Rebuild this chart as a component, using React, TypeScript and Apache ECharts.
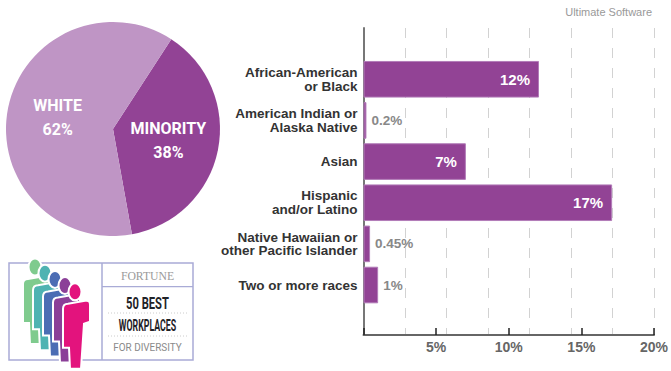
import React, { useEffect, useRef } from "react";
import * as echarts from "echarts";

const categories = [
  "African-American\nor Black",
  "American Indian or\nAlaska Native",
  "Asian",
  "Hispanic\nand/or Latino",
  "Native Hawaiian or\nother Pacific Islander",
  "Two or more races",
];
const shares = [12, 0.2, 7, 17, 0.45, 1];
const pieNames = ["MINORITY", "WHITE"];
const pieValues = [38, 62];
const sourceText = "Ultimate Software";
const logoLines = ["FORTUNE", "50 BEST", "WORKPLACES", "FOR DIVERSITY"];
const figureColors = ["#7fcb8e", "#4fb3b2", "#4b6db4", "#8b3f98", "#e3137d"];

const BODY =
  "M -12 17 Q -12 12 -7 12 L 10 9 Q 15 8 15 13 L 15 30 L 9 32 L 6 77 L -5 77 L -6 56 L -12 56 Z";
let registered = false;

export default function App() {
  const ref = useRef<HTMLDivElement>(null);
  useEffect(() => {
    if (!registered) {
      echarts.graphic.registerShape("personBody", echarts.graphic.extendPath(BODY, {}));
      registered = true;
    }
    const chart = echarts.init(ref.current!, null, { renderer: "svg" });
    const figs: any[] = [];
    figureColors.forEach((c, i) => {
      const hx = 35 + i * 10;
      const hy = 267 + i * 6.2;
      figs.push({
        type: "personBody",
        x: hx,
        y: hy,
        style: { fill: c, stroke: "#fff", lineWidth: 2 },
        z: 10 + i,
      });
      figs.push({
        type: "ellipse",
        shape: { cx: hx, cy: hy, rx: 6.5, ry: 8.5 },
        style: { fill: c, stroke: "#fff", lineWidth: 2 },
        z: 10 + i,
      });
    });
    const option: any = {
      animation: false,
      title: {
        text: sourceText,
        right: 14,
        top: 1,
        textStyle: { fontSize: 11, fontWeight: "normal", color: "#999", fontFamily: "Liberation Sans" },
      },
      grid: [
        { left: 363.5, right: 15, top: 28, bottom: 36 },
        { left: 363.5, right: 15, top: 58.7, bottom: 65.4 },
      ],
      xAxis: [
        {
          type: "value",
          gridIndex: 0,
          min: 0,
          max: 20,
          interval: 5,
          axisLine: { show: true, lineStyle: { color: "#666", width: 2 } },
          axisTick: { show: true, inside: true, length: 7, lineStyle: { color: "#222", width: 1.5 } },
          axisLabel: {
            margin: 5,
            color: "#666",
            fontWeight: "bold",
            fontSize: 14,
            fontFamily: "Liberation Sans",
            formatter: (v: number) => (v === 0 ? "" : v + "%"),
          },
          splitLine: { show: false },
        },
        {
          type: "value",
          gridIndex: 0,
          min: 0,
          max: 20,
          interval: 20 / 7,
          axisLine: { show: false },
          axisTick: { show: false },
          axisLabel: { show: false },
          splitLine: { show: true, lineStyle: { color: "#d2d2d2", width: 1, type: [10, 10] } },
        },
        {
          type: "value",
          gridIndex: 1,
          min: 0,
          max: 20,
          show: false,
        },
      ],
      yAxis: [
        {
          type: "value",
          gridIndex: 0,
          min: 0,
          max: 1,
          axisLine: { show: true, lineStyle: { color: "#777", width: 2 } },
          axisTick: { show: false },
          axisLabel: { show: false },
          splitLine: { show: false },
        },
        {
          type: "category",
          gridIndex: 1,
          inverse: true,
          data: categories,
          axisLine: { show: false },
          axisTick: { show: false },
          axisLabel: {
            margin: 6,
            color: "#333",
            fontWeight: "bold",
            fontSize: 13.5,
            lineHeight: 13.5,
            fontFamily: "Liberation Sans",
          },
        },
      ],
      series: [
        {
          type: "pie",
          center: [113, 129],
          radius: 107,
          startAngle: 57,
          clockwise: true,
          avoidLabelOverlap: false,
          silent: true,
          label: {
            show: true,
            position: "inside",
            formatter: "{b}\n{c}%",
            color: "#fff",
            fontWeight: "bold",
            fontSize: 16,
            lineHeight: 24,
            fontFamily: "Roboto",
            textBorderWidth: 0,
          },
          labelLine: { show: false },
          data: pieNames.map((n, i) => ({
            name: n,
            value: pieValues[i],
            itemStyle: { color: i === 0 ? "#924395" : "#bf95c5" },
          })),
        },
        {
          type: "bar",
          xAxisIndex: 2,
          yAxisIndex: 1,
          barCategoryGap: "11%",
          silent: true,
          itemStyle: { color: "#924395", borderColor: "#b27cb8", borderWidth: 1 },
          data: shares.map((v) => ({
            value: v,
            label:
              v < 2
                ? { show: true, position: "right", distance: 5, color: "#888", fontSize: 13.5 }
                : { show: true, position: "insideRight", distance: 9, color: "#fff", fontSize: 15 },
          })),
          label: {
            show: true,
            fontWeight: "bold",
            fontFamily: "Liberation Sans",
            formatter: (p: any) => p.value + "%",
          },
        },
      ],
      graphic: [
        {
          type: "rect",
          shape: { x: 9, y: 263, width: 184, height: 97 },
          style: { fill: "none", stroke: "#a9abd6", lineWidth: 1.5 },
          z: 1,
        },
        {
          type: "line",
          shape: { x1: 102, y1: 263, x2: 102, y2: 360 },
          style: { stroke: "#a9abd6", lineWidth: 1.5 },
          z: 1,
        },
        {
          type: "line",
          shape: { x1: 102, y1: 286.7, x2: 193, y2: 286.7 },
          style: { stroke: "#a9abd6", lineWidth: 1.2 },
          z: 1,
        },
        {
          type: "line",
          shape: { x1: 108, y1: 313, x2: 188, y2: 313 },
          style: { stroke: "#ccc", lineWidth: 1, lineDash: [1, 2] },
          z: 1,
        },
        {
          type: "line",
          shape: { x1: 108, y1: 336, x2: 188, y2: 336 },
          style: { stroke: "#ccc", lineWidth: 1, lineDash: [1, 2] },
          z: 1,
        },
        {
          type: "text",
          x: 147.5,
          y: 275.5,
          scaleX: 0.9,
          style: {
            text: logoLines[0],
            fill: "#9a9a9a",
            font: "13px 'Liberation Serif'",
            textAlign: "center",
            textVerticalAlign: "middle",
          },
          z: 2,
        },
        {
          type: "text",
          x: 147.5,
          y: 303,
          scaleX: 0.7,
          style: {
            text: logoLines[1],
            fill: "#1f2328",
            font: "bold 16px Roboto",
            textAlign: "center",
            textVerticalAlign: "middle",
          },
          z: 2,
        },
        {
          type: "text",
          x: 147.5,
          y: 325,
          scaleX: 0.55,
          style: {
            text: logoLines[2],
            fill: "#1f2328",
            font: "bold 16px Roboto",
            textAlign: "center",
            textVerticalAlign: "middle",
          },
          z: 2,
        },
        {
          type: "text",
          x: 147.5,
          y: 347,
          scaleX: 0.9,
          style: {
            text: logoLines[3],
            fill: "#8a8a8a",
            font: "11px Roboto",
            textAlign: "center",
            textVerticalAlign: "middle",
          },
          z: 2,
        },
        ...figs,
      ],
    };
    chart.setOption(option);
    return () => chart.dispose();
  }, []);
  return (
    <div
      ref={ref}
      style={{ position: "fixed", left: 0, top: 0, width: 671, height: 371, background: "#fff" }}
    />
  );
}
